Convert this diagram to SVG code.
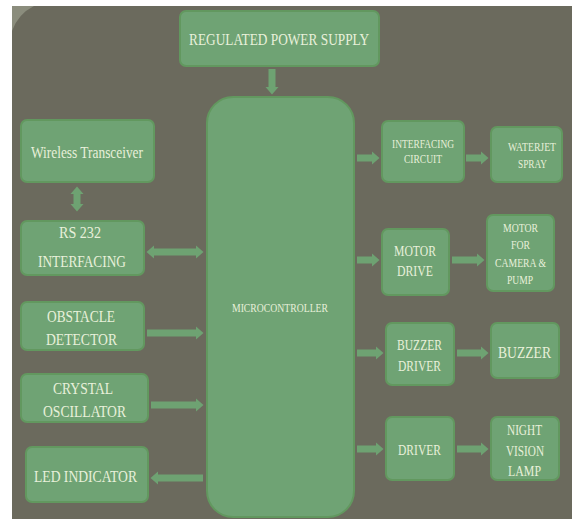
<svg xmlns="http://www.w3.org/2000/svg" width="572" height="519" viewBox="0 0 572 519">
<style>
.box{fill:#6fa374;stroke:#62985f;stroke-width:2}
.t{font-family:"Liberation Serif","DejaVu Serif",serif;fill:#e8f0da;text-anchor:middle}
.a{fill:none;stroke:#6ea272;stroke-width:7}
</style>
<defs>
<marker id="h" markerUnits="userSpaceOnUse" markerWidth="8" markerHeight="14" refX="0" refY="7" orient="auto-start-reverse">
<path d="M0,0.5 L7.5,7 L0,13.5 Z" fill="#6ea272"/>
</marker>
</defs>
<rect x="0" y="0" width="572" height="519" fill="#ffffff"/>
<rect x="12" y="6" width="560" height="513" fill="#6b6a5d"/>
<path d="M12,6 H34 Q18,14 12,31 Z" fill="#8b8d7d"/>

<g id="connectors">
<path class="a" d="M272,69 V87" marker-end="url(#h)"/>
<path class="a" d="M77,194 V204" marker-start="url(#h)" marker-end="url(#h)"/>
<path class="a" d="M154,252 H196" marker-start="url(#h)" marker-end="url(#h)"/>
<path class="a" d="M147,333 H196" marker-end="url(#h)"/>
<path class="a" d="M151,405 H196" marker-end="url(#h)"/>
<path class="a" d="M203,478 H158" marker-end="url(#h)"/>
<path class="a" d="M357,158 H372" marker-end="url(#h)"/>
<path class="a" d="M466,158 H481" marker-end="url(#h)"/>
<path class="a" d="M357,260 H372" marker-end="url(#h)"/>
<path class="a" d="M452,260 H477" marker-end="url(#h)"/>
<path class="a" d="M357,353 H376" marker-end="url(#h)"/>
<path class="a" d="M457,353 H481" marker-end="url(#h)"/>
<path class="a" d="M357,449 H376" marker-end="url(#h)"/>
<path class="a" d="M457,449 H481" marker-end="url(#h)"/>
</g>

<g id="power">
<rect class="box" x="180" y="11" width="199" height="55" rx="6"/>
<text class="t" x="279" y="45" font-size="17" textLength="180" lengthAdjust="spacingAndGlyphs">REGULATED POWER SUPPLY</text>
</g>
<g id="micro">
<rect class="box" x="207" y="97" width="147" height="420" rx="26"/>
<text class="t" x="280" y="312" font-size="12" textLength="96" lengthAdjust="spacingAndGlyphs">MICROCONTROLLER</text>
</g>
<g id="wireless">
<rect class="box" x="21" y="120" width="133" height="62" rx="6"/>
<text class="t" x="87" y="158" font-size="17" textLength="112" lengthAdjust="spacingAndGlyphs">Wireless Transceiver</text>
</g>
<g id="rs232">
<rect class="box" x="21" y="221" width="123" height="54" rx="6"/>
<text class="t" x="80" y="238" font-size="17" textLength="42" lengthAdjust="spacingAndGlyphs">RS 232</text>
<text class="t" x="82" y="267" font-size="17" textLength="88" lengthAdjust="spacingAndGlyphs">INTERFACING</text>
</g>
<g id="obstacle">
<rect class="box" x="21" y="302" width="123" height="48" rx="6"/>
<text class="t" x="81" y="322" font-size="17" textLength="68" lengthAdjust="spacingAndGlyphs">OBSTACLE</text>
<text class="t" x="81.5" y="345" font-size="17" textLength="71" lengthAdjust="spacingAndGlyphs">DETECTOR</text>
</g>
<g id="crystal">
<rect class="box" x="21" y="374" width="127" height="48" rx="6"/>
<text class="t" x="83" y="394" font-size="17" textLength="60" lengthAdjust="spacingAndGlyphs">CRYSTAL</text>
<text class="t" x="84.5" y="417" font-size="17" textLength="83" lengthAdjust="spacingAndGlyphs">OSCILLATOR</text>
</g>
<g id="led">
<rect class="box" x="26" y="447" width="122" height="55" rx="6"/>
<text class="t" x="85.5" y="482" font-size="17" textLength="103" lengthAdjust="spacingAndGlyphs">LED INDICATOR</text>
</g>
<g id="interfacing">
<rect class="box" x="382" y="121" width="82" height="61" rx="6"/>
<text class="t" x="423" y="148" font-size="12" textLength="62" lengthAdjust="spacingAndGlyphs">INTERFACING</text>
<text class="t" x="423" y="163" font-size="12" textLength="38" lengthAdjust="spacingAndGlyphs">CIRCUIT</text>
</g>
<g id="waterjet">
<rect class="box" x="491" y="127" width="71" height="55" rx="6"/>
<text class="t" x="532" y="151" font-size="12" textLength="48" lengthAdjust="spacingAndGlyphs">WATERJET</text>
<text class="t" x="532.5" y="168" font-size="12" textLength="29" lengthAdjust="spacingAndGlyphs">SPRAY</text>
</g>
<g id="motordrive">
<rect class="box" x="382" y="229" width="67" height="66" rx="6"/>
<text class="t" x="415" y="256" font-size="15" textLength="42" lengthAdjust="spacingAndGlyphs">MOTOR</text>
<text class="t" x="415" y="276" font-size="15" textLength="36" lengthAdjust="spacingAndGlyphs">DRIVE</text>
</g>
<g id="motor">
<rect class="box" x="487" y="215" width="67" height="76" rx="6"/>
<text class="t" x="520.5" y="232" font-size="13" textLength="35" lengthAdjust="spacingAndGlyphs">MOTOR</text>
<text class="t" x="520.5" y="249" font-size="13" textLength="19" lengthAdjust="spacingAndGlyphs">FOR</text>
<text class="t" x="520.5" y="267" font-size="13" textLength="51" lengthAdjust="spacingAndGlyphs">CAMERA &amp;</text>
<text class="t" x="520" y="284" font-size="13" textLength="26" lengthAdjust="spacingAndGlyphs">PUMP</text>
</g>
<g id="buzzerdriver">
<rect class="box" x="386" y="323" width="68" height="62" rx="6"/>
<text class="t" x="419.5" y="350" font-size="15" textLength="45" lengthAdjust="spacingAndGlyphs">BUZZER</text>
<text class="t" x="419.5" y="371" font-size="15" textLength="43" lengthAdjust="spacingAndGlyphs">DRIVER</text>
</g>
<g id="buzzer">
<rect class="box" x="491" y="323" width="68" height="55" rx="6"/>
<text class="t" x="524.5" y="358" font-size="17" textLength="53" lengthAdjust="spacingAndGlyphs">BUZZER</text>
</g>
<g id="driver">
<rect class="box" x="386" y="417" width="68" height="63" rx="6"/>
<text class="t" x="419.5" y="455" font-size="15" textLength="43" lengthAdjust="spacingAndGlyphs">DRIVER</text>
</g>
<g id="lamp">
<rect class="box" x="491" y="417" width="68" height="63" rx="6"/>
<text class="t" x="524.5" y="435" font-size="14" textLength="35" lengthAdjust="spacingAndGlyphs">NIGHT</text>
<text class="t" x="525" y="456" font-size="14" textLength="38" lengthAdjust="spacingAndGlyphs">VISION</text>
<text class="t" x="524.5" y="476" font-size="14" textLength="33" lengthAdjust="spacingAndGlyphs">LAMP</text>
</g>
</svg>
